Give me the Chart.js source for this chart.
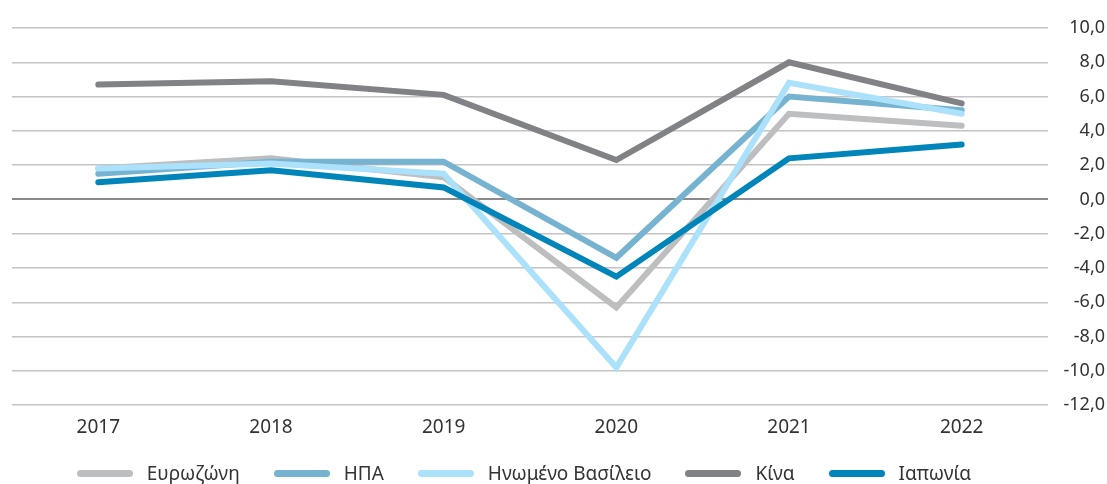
<!DOCTYPE html>
<html>
<head>
<meta charset="utf-8">
<script src="https://cdn.jsdelivr.net/npm/chart.js@4"></script>
<style>
html,body{margin:0;padding:0;background:#fff;}
#wrap{width:1107px;height:484px;position:relative;overflow:hidden;}
#legend{position:absolute;left:0;width:1048px;top:460px;height:26px;display:flex;justify-content:center;align-items:center;
  font-family:'Noto Sans',sans-serif;font-size:19px;color:#333;line-height:26px;}
#legend .item{display:flex;align-items:center;margin:0 17px;white-space:nowrap;}
#legend .box{width:56px;height:7px;border-radius:3.5px;margin-right:14px;}
</style>
</head>
<body>
<div id="wrap"><canvas id="c"></canvas><div id="legend"></div></div>
<script>
const categories = ["2017","2018","2019","2020","2021","2022"];
const seriesNames = ["Ευρωζώνη","ΗΠΑ","Ηνωμένο Βασίλειο","Κίνα","Ιαπωνία"];
const eurozone = [1.8, 2.4, 1.3, -6.3, 5.0, 4.3];
const usa      = [1.5, 2.2, 2.2, -3.4, 6.0, 5.2];
const uk       = [1.8, 2.1, 1.5, -9.8, 6.8, 5.0];
const china    = [6.7, 6.9, 6.1, 2.3, 8.0, 5.6];
const japan    = [1.0, 1.7, 0.7, -4.5, 2.4, 3.2];
const colors   = ["#bdbec0","#76b3d1","#abe1fa","#808285","#0085ba"];
const yTicks   = [10,8,6,4,2,0,-2,-4,-6,-8,-10,-12];

const values = [eurozone, usa, uk, china, japan];
const datasets = values.map((v,i)=>({
  label: seriesNames[i],
  data: v,
  borderColor: colors[i],
  backgroundColor: colors[i],
  borderWidth: 6,
  pointRadius: 0,
  pointHoverRadius: 0,
  tension: 0,
  fill: false,
  order: -i,
  borderCapStyle: 'round',
  borderJoinStyle: 'miter'
}));

const htmlLegend = {
  id: 'htmlLegend',
  afterUpdate(chart){
    const el = document.getElementById('legend');
    el.innerHTML = '';
    chart.data.datasets.forEach(d=>{
      const item = document.createElement('div'); item.className='item';
      const box = document.createElement('span'); box.className='box'; box.style.background = d.borderColor;
      const txt = document.createElement('span'); txt.textContent = d.label;
      item.appendChild(box); item.appendChild(txt); el.appendChild(item);
    });
  }
};

new Chart(document.getElementById('c'), {
  type: 'line',
  data: { labels: categories, datasets },
  plugins: [htmlLegend],
  options: {
    responsive: true,
    maintainAspectRatio: false,
    animation: false,
    layout: { padding: { left: 12, right: 2, top: 28, bottom: 34 } },
    plugins: {
      tooltip: { enabled: false },
      legend: { display: false }
    },
    scales: {
      x: {
        offset: true,
        grid: { display: false, drawTicks: false },
        border: { display: false },
        ticks: { color: '#333', font: { family: 'Noto Sans', size: 19 }, padding: 11 }
      },
      y: {
        position: 'right',
        min: -12, max: 10,
        afterBuildTicks: (s)=>{ s.ticks = yTicks.map(v=>({value:v})); },
        afterFit: (s)=>{ s.width = 57; },
        grid: {
          drawTicks: false,
          color: (ctx)=> ctx.tick && ctx.tick.value === 0 ? '#8a8a8a' : '#c4c4c4',
          lineWidth: (ctx)=> ctx.tick && ctx.tick.value === 0 ? 2 : 1.5
        },
        border: { display: false },
        ticks: {
          crossAlign: 'far',
          color: '#333',
          padding: 8,
          font: { family: 'Noto Sans', size: 18 },
          callback: (v)=> v.toFixed(1).replace('.', ',')
        }
      }
    }
  }
});
</script>
</body>
</html>
